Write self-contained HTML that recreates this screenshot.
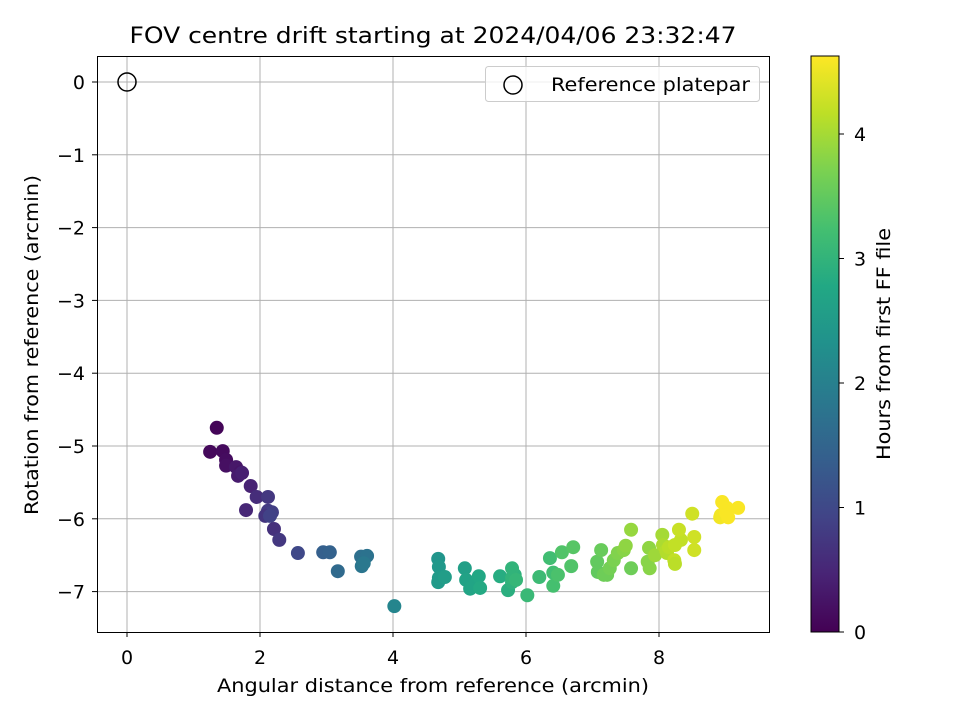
<!DOCTYPE html>
<html><head><meta charset="utf-8"><style>
body{margin:0;background:#fff;}
svg{font-family:"DejaVu Sans","Liberation Sans",sans-serif;}
</style></head><body>
<svg id="chart" width="960" height="720" viewBox="0 0 960 720">
<defs>
<linearGradient id="vir" x1="0" y1="1" x2="0" y2="0">
<stop offset="0" stop-color="#440154"/><stop offset="0.1" stop-color="#482475"/><stop offset="0.2" stop-color="#414487"/><stop offset="0.3" stop-color="#355f8d"/><stop offset="0.4" stop-color="#2a788e"/><stop offset="0.5" stop-color="#21918c"/><stop offset="0.6" stop-color="#22a884"/><stop offset="0.7" stop-color="#44bf70"/><stop offset="0.8" stop-color="#7ad151"/><stop offset="0.9" stop-color="#bddf26"/><stop offset="1" stop-color="#fde725"/>
</linearGradient>
</defs>
<text x="433" y="43" font-size="22" text-anchor="middle" textLength="607" lengthAdjust="spacingAndGlyphs">FOV centre drift starting at 2024/04/06 23:32:47</text>
<g id="grid"></g>
<g id="ticks"></g>
<g id="points"></g>
<rect x="97.5" y="56.5" width="672" height="576" fill="none" stroke="#000" stroke-width="1"/>
<circle cx="127" cy="82" r="9" fill="none" stroke="#000" stroke-width="1.5"/>
<g>
<rect x="485.5" y="66.5" width="274" height="35" rx="3" fill="#fff" fill-opacity="0.8" stroke="#ccc"/>
<circle cx="513" cy="85" r="9" fill="none" stroke="#000" stroke-width="1.5"/>
<text x="551" y="91" font-size="19" textLength="199" lengthAdjust="spacingAndGlyphs">Reference platepar</text>
</g>
<text x="433" y="692" font-size="19" text-anchor="middle" textLength="432" lengthAdjust="spacingAndGlyphs">Angular distance from reference (arcmin)</text>
<text transform="translate(38,345) rotate(-90)" font-size="19" text-anchor="middle" textLength="340" lengthAdjust="spacingAndGlyphs">Rotation from reference (arcmin)</text>
<rect x="811" y="56" width="28" height="576" fill="url(#vir)" stroke="#000" stroke-width="1"/>
<g id="cbticks"></g>
<text transform="translate(890,344) rotate(-90)" font-size="19" text-anchor="middle" textLength="232" lengthAdjust="spacingAndGlyphs">Hours from first FF file</text>
</svg>
<script>
const xVals=[1.35,1.25,1.44,1.49,1.49,1.64,1.71,1.67,1.73,1.86,1.95,2.12,1.79,2.12,2.18,2.08,2.15,2.21,2.29,2.57,2.95,3.05,3.17,3.52,3.61,3.53,3.56,4.02,
4.68,4.69,4.68,4.69,4.78,5.08,5.10,5.23,5.29,5.16,5.31,5.61,5.73,5.79,5.83,5.79,5.79,5.85,6.02,6.20,6.36,6.41,6.41,6.48,6.54,6.68,6.71,
7.07,7.13,7.08,7.17,7.22,7.26,7.32,7.38,7.47,7.50,7.58,7.58,7.83,7.85,7.86,7.94,8.05,8.06,8.11,8.12,8.15,8.23,8.33,8.30,8.24,8.53,8.50,8.24,8.53,8.92,8.93,9.01,9.02,9.19,8.95,9.04];
const yVals=[-4.75,-5.08,-5.07,-5.19,-5.27,-5.29,-5.36,-5.41,-5.37,-5.55,-5.70,-5.70,-5.88,-5.89,-5.91,-5.96,-5.96,-6.14,-6.29,-6.47,-6.46,-6.46,-6.72,-6.52,-6.51,-6.65,-6.61,-7.20,
-6.55,-6.66,-6.87,-6.81,-6.80,-6.68,-6.84,-6.90,-6.79,-6.96,-6.95,-6.79,-6.98,-6.87,-6.77,-6.68,-6.81,-6.84,-7.05,-6.80,-6.54,-6.74,-6.92,-6.77,-6.46,-6.65,-6.39,
-6.59,-6.43,-6.73,-6.77,-6.77,-6.68,-6.57,-6.47,-6.43,-6.37,-6.15,-6.68,-6.59,-6.40,-6.68,-6.50,-6.22,-6.36,-6.44,-6.47,-6.39,-6.57,-6.29,-6.15,-6.36,-6.43,-5.93,-6.62,-6.25,-5.98,-5.95,-5.92,-5.85,-5.85,-5.77,-5.98];
const hours=[0.05,0.1,0.12,0.15,0.2,0.3,0.25,0.35,0.4,0.45,0.6,0.75,0.5,0.8,0.85,0.7,0.9,0.65,0.75,1.0,1.4,1.45,1.6,1.7,1.75,1.8,1.85,2.1,
2.4,2.45,2.5,2.5,2.55,2.6,2.65,2.7,2.75,2.7,2.8,2.85,2.9,2.95,2.95,3.0,3.0,3.05,3.1,3.15,3.2,3.2,3.25,3.3,3.35,3.35,3.4,
3.5,3.55,3.5,3.6,3.6,3.65,3.7,3.75,3.8,3.85,3.9,3.6,3.8,3.85,3.8,3.95,4.0,4.05,4.1,4.1,4.15,4.2,4.2,4.25,4.2,4.3,4.3,4.15,4.3,4.55,4.55,4.6,4.6,4.6,4.6,4.6];
const xTicks=[0,2,4,6,8];
const yTicks=[0,-1,-2,-3,-4,-5,-6,-7];
const cbTicks=[0,1,2,3,4];
const NS="http://www.w3.org/2000/svg";
const xs=v=>127+v*66.5;
const ys=v=>82-v*72.8;
const cs=v=>632-v*124.5;
const HMAX=4.63;
const vir=[[68,1,84],[72,36,117],[65,68,135],[53,95,141],[42,120,142],[33,145,140],[34,168,132],[68,191,112],[122,209,81],[189,223,38],[253,231,37]];
function color(h){let t=Math.max(0,Math.min(1,h/HMAX))*10;let i=Math.min(9,Math.floor(t));let f=t-i;let a=vir[i],b=vir[i+1];return `rgb(${a.map((c,k)=>Math.round(c+(b[k]-c)*f)).join(',')})`;}
function mk(tag,attrs,parent){const e=document.createElementNS(NS,tag);for(const k in attrs)e.setAttribute(k,attrs[k]);parent.appendChild(e);return e;}
const grid=document.getElementById('grid'),ticks=document.getElementById('ticks'),pts=document.getElementById('points'),cbt=document.getElementById('cbticks');
xTicks.forEach(v=>{const x=xs(v);
const g=mk('line',{x1:x,x2:x,y1:56,y2:632,stroke:'#b0b0b0','stroke-width':1},grid);


mk('line',{x1:x,x2:x,y1:632,y2:637,stroke:'#000'},ticks);
const t=mk('text',{x:x,y:664,'font-size':19,'text-anchor':'middle'},ticks);t.textContent=v;

});
yTicks.forEach(v=>{const y=ys(v);
const g=mk('line',{x1:97,x2:769,y1:y,y2:y,stroke:'#b0b0b0','stroke-width':1},grid);


mk('line',{x1:92,x2:97,y1:y,y2:y,stroke:'#000'},ticks);
const t=mk('text',{x:85,y:y+7,'font-size':19,'text-anchor':'end'},ticks);t.textContent=v<0?'\u2212'+(-v):v;

});
cbTicks.forEach(v=>{const y=cs(v);
mk('line',{x1:839,x2:844,y1:y,y2:y,stroke:'#000'},cbt);
const t=mk('text',{x:854,y:y+7,'font-size':19},cbt);t.textContent=v;

});
xVals.forEach((v,i)=>{const c=mk('circle',{cx:xs(v),cy:ys(yVals[i]),r:7,fill:color(hours[i])},pts);

});
</script>
</body></html>
